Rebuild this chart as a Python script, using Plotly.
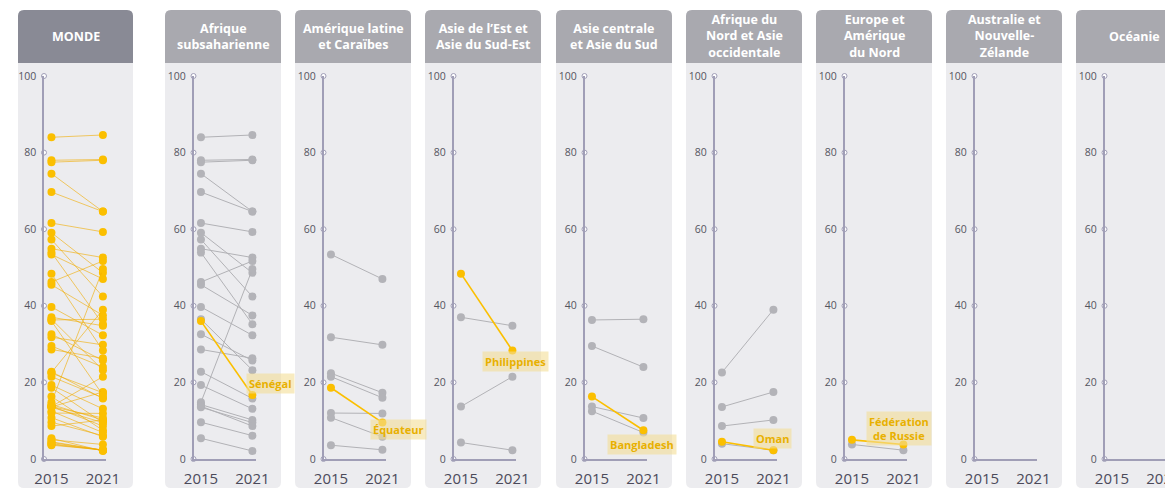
import plotly.graph_objects as go

# ---------------- data ----------------
years = ["2015", "2021"]
regions = ["Afrique<br>subsaharienne", "Amérique latine<br>et Caraïbes",
           "Asie de l’Est et<br>Asie du Sud-Est", "Asie centrale<br>et Asie du Sud",
           "Afrique du<br>Nord et Asie<br>occidentale", "Europe et<br>Amérique<br>du Nord",
           "Australie et<br>Nouvelle-<br>Zélande", "Océanie"]
world_title = "MONDE"

afr_2015 = [84.0, 78.0, 77.5, 74.5, 69.7, 61.6, 59.1, 57.3, 54.9, 53.9, 46.2, 45.5,
            39.7, 36.5, 32.6, 28.6, 22.8, 19.3, 14.8, 14.2, 13.5, 13.8, 9.6, 5.4]
afr_2021 = [84.6, 78.2, 78.0, 64.6, 64.6, 59.3, 48.6, 42.4, 52.6, 35.2, 51.7, 37.5,
            32.3, 23.2, 25.7, 26.3, 15.8, 13.1, 49.6, 10.2, 9.5, 8.6, 6.1, 2.1]
amer_2015 = [53.4, 31.8, 22.4, 21.5, 12.0, 10.8, 3.6]
amer_2021 = [47.0, 29.8, 17.3, 16.0, 11.9, 5.8, 2.4]
asie_e_2015 = [37.0, 13.7, 4.3]
asie_e_2021 = [34.8, 21.5, 2.3]
asie_c_2015 = [36.3, 29.5, 13.7, 12.5]
asie_c_2021 = [36.5, 24.0, 10.7, 6.9]
afn_2015 = [22.6, 13.6, 8.6, 4.0]
afn_2021 = [39.0, 17.5, 10.2, 2.3]
eur_2015 = [3.8]
eur_2021 = [2.3]
aus_2015, aus_2021 = [], []
oce_2015, oce_2021 = [], []

highlight_names = ["Sénégal", "Équateur", "Philippines", "Bangladesh", "Oman",
                   "Fédération<br>de Russie", None, None]
highlight_2015 = [36.0, 18.6, 48.4, 16.3, 4.5, 5.0, None, None]
highlight_2021 = [16.7, 9.5, 28.3, 7.5, 2.3, 3.8, None, None]

y_ticks = [0, 20, 40, 60, 80, 100]

grey_2015 = [afr_2015, amer_2015, asie_e_2015, asie_c_2015, afn_2015, eur_2015, aus_2015, oce_2015]
grey_2021 = [afr_2021, amer_2021, asie_e_2021, asie_c_2021, afn_2021, eur_2021, aus_2021, oce_2021]

# ---------------- layout helpers ----------------
# the page body has an 8px margin: lay the figure out in window pixels, minus that offset
OFF = 8
W, H = 1173 - OFF, 489 - OFF
def px(x): return (x - OFF) / W
def py(y): return 1 - (y - OFF) / H

XR = [-0.145, 1.06]
AX_W = 62
panel_left = [18, 165, 295, 425, 556, 686, 816, 946, 1076]
panel_w = [115, 116, 116, 116, 116, 116, 116, 116, 116]
axis_px = [44] + [l + 28.5 for l in panel_left[1:]]

YELLOW = "#fbbf00"
GREY = "#b3b3b8"
AXIS_C = "#a09eb6"
FONT = "Open Sans"

fig = go.Figure()
layout = dict(width=W, height=H, margin=dict(l=0, r=0, t=0, b=0, autoexpand=False),
              paper_bgcolor="white", plot_bgcolor="rgba(0,0,0,0)",
              showlegend=False, shapes=[], annotations=[])

def rounded_path(x0, y0, x1, y1, r, top=True, bottom=True):
    rx, ry = r / W, r / H
    X0, X1 = px(x0), px(x1)
    Yt, Yb = py(y0), py(y1)
    p = []
    if top:
        p.append(f"M{X0},{Yt-ry} Q{X0},{Yt} {X0+rx},{Yt} L{X1-rx},{Yt} Q{X1},{Yt} {X1},{Yt-ry}")
    else:
        p.append(f"M{X0},{Yt} L{X1},{Yt}")
    if bottom:
        p.append(f"L{X1},{Yb+ry} Q{X1},{Yb} {X1-rx},{Yb} L{X0+rx},{Yb} Q{X0},{Yb} {X0},{Yb+ry} Z")
    else:
        p.append(f"L{X1},{Yb} L{X0},{Yb} Z")
    return " ".join(p)

titles = [world_title] + regions
for i in range(9):
    l, w = panel_left[i], panel_w[i]
    layout["shapes"].append(dict(type="path", xref="paper", yref="paper", layer="below",
                                 path=rounded_path(l, 10, l + w, 488, 6),
                                 fillcolor="#ececef", line=dict(width=0)))
    layout["shapes"].append(dict(type="path", xref="paper", yref="paper", layer="below",
                                 path=rounded_path(l, 10, l + w, 63, 6, bottom=False),
                                 fillcolor="#898a95" if i == 0 else "#a9a9af", line=dict(width=0)))
    layout["annotations"].append(dict(xref="paper", yref="paper", x=px(l + w / 2), y=py(36.5),
                                      text=titles[i], showarrow=False, xanchor="center", yanchor="middle",
                                      font=dict(family=FONT, size=12.5, color="white", weight=700)))

    sfx = "" if i == 0 else str(i + 1)
    a = axis_px[i]
    layout["xaxis" + sfx] = dict(domain=[px(a), min(px(a + AX_W), 1.0)], range=XR, anchor="y" + sfx,
                                 automargin=False, ticklabeloverflow="allow",
                                 showgrid=False, zeroline=False, showline=True, linecolor=AXIS_C,
                                 linewidth=1.5, tickvals=[0, 1], ticktext=years, ticks="",
                                 ticklabelstandoff=5,
                                 tickfont=dict(family=FONT, size=15, color="#4b4a5a"), fixedrange=True)
    layout["yaxis" + sfx] = dict(domain=[py(459), py(76)], range=[0, 100], anchor="x" + sfx,
                                 automargin=False,
                                 showgrid=False, zeroline=False, showline=True, linecolor=AXIS_C,
                                 linewidth=1.5, tickvals=y_ticks, ticks="", ticklabelstandoff=4,
                                 tickfont=dict(family=FONT, size=10.5, color="#55555f"), fixedrange=True)
    xa, ya = "x" + sfx, "y" + sfx
    # tick circles
    fig.add_trace(go.Scatter(x=[XR[0]] * len(y_ticks), y=y_ticks, mode="markers", xaxis=xa, yaxis=ya,
                             cliponaxis=False, hoverinfo="skip",
                             marker=dict(symbol="circle", size=5, color="white",
                                         line=dict(color=AXIS_C, width=1))))

def add_pair(a, b, xa, ya, color, lw, msize, mcolor):
    fig.add_trace(go.Scatter(x=[0, 1], y=[a, b], mode="lines+markers", xaxis=xa, yaxis=ya,
                             cliponaxis=False, line=dict(color=color, width=lw),
                             marker=dict(size=msize, color=mcolor)))

# world panel: union of all regions
world_2015, world_2021 = [], []
for g15, g21 in zip(grey_2015, grey_2021):
    world_2015 += g15
    world_2021 += g21
for h15, h21 in zip(highlight_2015, highlight_2021):
    if h15 is not None:
        world_2015.append(h15)
        world_2021.append(h21)
for a, b in zip(world_2015, world_2021):
    add_pair(a, b, "x", "y", "rgba(240,172,0,0.6)", 1, 8, YELLOW)

# regional panels
for r in range(8):
    sfx = str(r + 2)
    xa, ya = "x" + sfx, "y" + sfx
    for a, b in zip(grey_2015[r], grey_2021[r]):
        add_pair(a, b, xa, ya, "#b2b2b6", 1, 8, GREY)
    if highlight_2015[r] is not None:
        add_pair(highlight_2015[r], highlight_2021[r], xa, ya, YELLOW, 1.6, 8, YELLOW)

label_shift = [(18, 12), (16, -7), (3, -11), (-1, -14), (-1, 12), (-4, 16)]
for r in range(6):
    sfx = str(r + 2)
    layout["annotations"].append(dict(xref="x" + sfx, yref="y" + sfx, x=1, y=highlight_2021[r],
                                      text=highlight_names[r], showarrow=False,
                                      xshift=label_shift[r][0], yshift=label_shift[r][1],
                                      bgcolor="rgba(244,222,150,0.6)", borderpad=2,
                                      font=dict(family=FONT, size=11, color="#e8b000", weight=700)))

fig.update_layout(**layout)
fig.write_html("out.html")
